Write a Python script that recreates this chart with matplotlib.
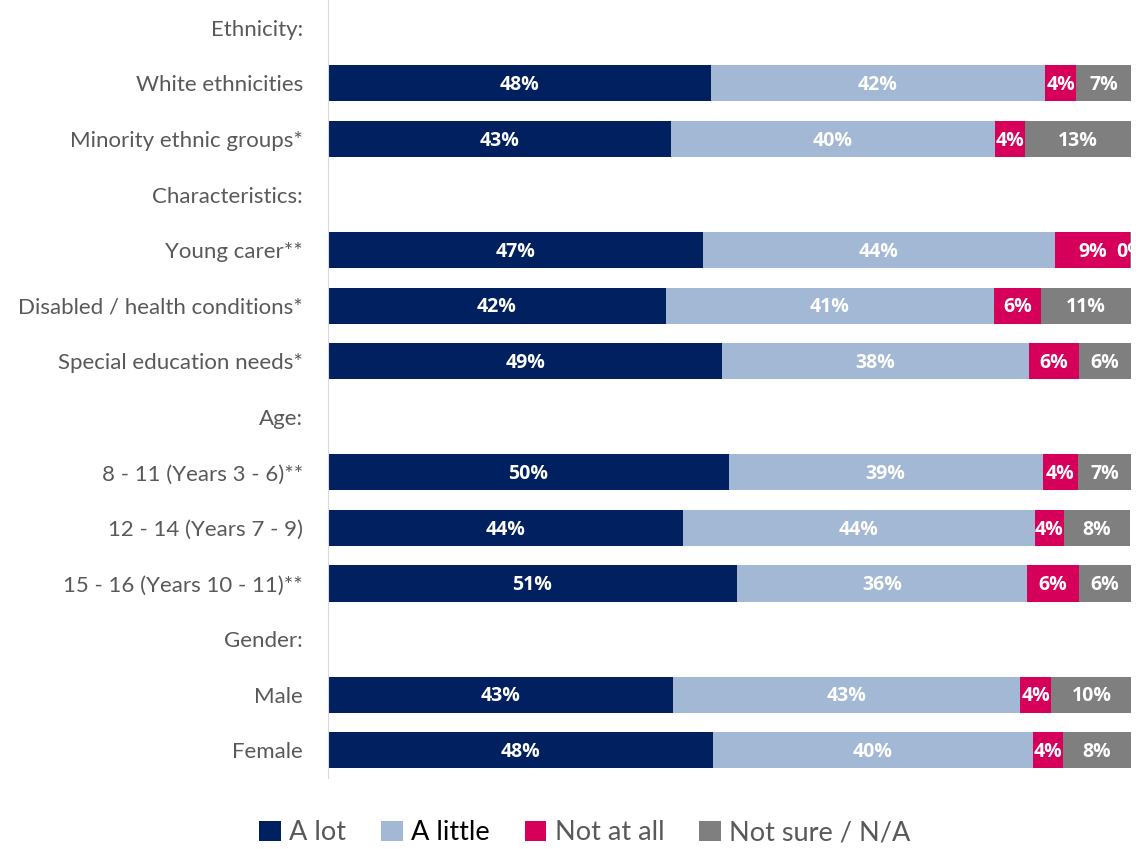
import matplotlib.pyplot as plt
import numpy as np

plt.rcParams['font.family'] = ['Lato', 'DejaVu Sans']

# DATA
######
rows = ['Ethnicity:', 'White ethnicities', 'Minority ethnic groups*',
        'Characteristics:', 'Young carer**', 'Disabled / health conditions*',
        'Special education needs*', 'Age:', '8 - 11 (Years 3 - 6)**',
        '12 - 14 (Years 7 - 9)', '15 - 16 (Years 10 - 11)**', 'Gender:',
        'Male', 'Female']

# None marks a header row with no bar
a_lot = [None, 47.7, 42.7, None, 46.7, 42.1, 49.1, None, 49.9, 44.2, 50.9, None, 43.0, 47.9]
a_little = [None, 41.6, 40.4, None, 43.8, 40.8, 38.2, None, 39.1, 43.8, 36.2, None, 43.2, 39.9]
not_at_all = [None, 3.9, 3.7, None, 9.4, 5.9, 6.2, None, 4.4, 3.7, 6.4, None, 3.9, 3.7]
not_sure = [None, 6.8, 13.2, None, 0.1, 11.2, 6.5, None, 6.6, 8.2, 6.5, None, 10.0, 8.5]

series_names = ['A lot', 'A little', 'Not at all', 'Not sure / N/A']
colors = ['#002060', '#a2b8d4', '#d6005a', '#7f7f7f']

fig = plt.figure(figsize=(11.4, 8.49), dpi=100)
ax = fig.add_axes((0.2877, 0.0836, 0.992 - 0.2877, 0.9164))

y = np.arange(len(rows))
left = np.zeros(len(rows))
handles = []
for name, vals, col in zip(series_names, [a_lot, a_little, not_at_all, not_sure], colors):
    v = np.array([0.0 if x is None else x for x in vals])
    mask = np.array([x is not None for x in vals])
    bars = ax.barh(y[mask], v[mask], left=left[mask], height=0.65, color=col,
                   label=name)
    handles.append(bars)
    # white bold value labels in the middle of each segment
    for yi, lv, vv in zip(y[mask], left[mask], v[mask]):
        ax.text(lv + vv / 2, yi + 0.03, '{0}%'.format(int(round(vv))), ha='center',
                va='center', color='white', fontweight='bold', fontsize=14,
                family=['Open Sans', 'DejaVu Sans'], clip_on=False)
    left = left + v

ax.set_xlim(0, 100)
ax.set_ylim(len(rows) - 0.5, -0.5)
ax.set_yticks(y)
ax.set_yticklabels(rows, fontsize=16, color='#595959')
ax.tick_params(axis='y', length=0, pad=18)
ax.set_xticks([])
for s in ['top', 'right', 'bottom']:
    ax.spines[s].set_visible(False)
ax.spines['left'].set_color('#d9d9d9')

leg = fig.legend(handles=handles, loc='center', bbox_to_anchor=(0.513, 0.019),
                 ncol=4, frameon=False, fontsize=19.5, handlelength=0.8,
                 handleheight=0.8, handletextpad=0.3, columnspacing=1.3)
for t in leg.get_texts():
    t.set_color('#595959')
leg.get_texts()[1].set_color('black')

fig.savefig('out.png', dpi=100)
